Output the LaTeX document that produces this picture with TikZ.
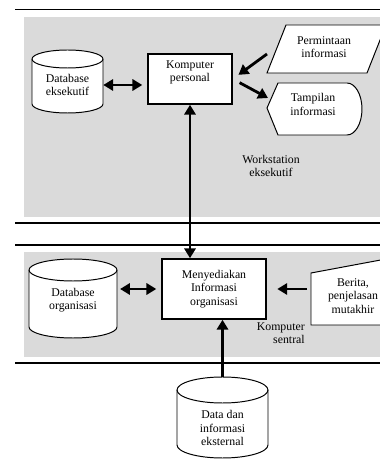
\documentclass[tikz,border=0pt]{standalone}
\usepackage{fontspec}
\setmainfont{Liberation Serif}
\usetikzlibrary{arrows.meta}
\definecolor{abu}{RGB}{218,218,218}

\begin{document}
\begin{tikzpicture}[x=0.025cm, y=0.025cm,
	garis/.style={line width=0.7pt},
	batas/.style={line width=1pt},
	teks/.style={align=center, inner sep=0pt, font=\fontsize{8.4}{9.5}\selectfont},
	kotak/.style={teks, draw, line width=1.1pt, fill=white},
	panah/.style={line width=2pt, -{Triangle[length=7pt,width=8pt]}},
	panah2/.style={line width=2pt, {Triangle[length=7pt,width=8pt]}-{Triangle[length=7pt,width=8pt]}}]
	\useasboundingbox (0,0) rectangle (380,462);
	\clip (0,0) rectangle (380,462);
	
	%BACKGROUND
	\fill[abu] (24,245) rectangle (385,445);
	\fill[abu] (24,105) rectangle (385,210);
	\foreach \y in {452.5,239,217,99}
	\draw[batas] (15,\y)--(385,\y);
	
	%WORKSTATION
	\draw[garis,fill=white] (32,403)--(32,358) arc[start angle=180,end angle=360,x radius=35.5,y radius=9]--(103,403) arc[start angle=0,end angle=180,x radius=35.5,y radius=9]--cycle;
	\draw[garis] (32,403) arc[start angle=180,end angle=360,x radius=35.5,y radius=9];
	\node[teks, minimum width=1.775cm] (db1) at (67.5,377) {Database\\eksekutif};
	
	\node[kotak, minimum width=2.1cm, minimum height=1.25cm] (komputer) at (190,383) {};
	\node[teks] at (190,389.5) {Komputer\\personal};
	
	\draw[garis,fill=white] (267,389)--(286,437)--(386,437)--(367,389)--cycle;
	\node[teks] (permintaan) at (324,415) {Permintaan\\informasi};
	
	\draw[garis,fill=white] (267,354)--(278,379)--(347,379) arc[start angle=90,end angle=-90,x radius=15,y radius=26]--(278,327)--cycle;
	\node[teks] (tampilan) at (313,357.5) {Tampilan\\informasi};
	
	\node[teks] (workstation) at (271,296) {Workstation\\eksekutif};
	
	\coordinate (pm) at (267,408);
	\coordinate (tp) at (268,364);
	\draw[panah2, shorten >=3.5pt] (db1.east)--(db1.east -| komputer.west);
	\draw[panah, shorten >=5pt] (pm)--(komputer.east);
	\draw[panah, shorten <=5.5pt] (komputer.east)--(tp);
	
	%SENTRAL
	\draw[garis,fill=white] (29,192)--(29,135) arc[start angle=180,end angle=360,x radius=44,y radius=11]--(117,192) arc[start angle=0,end angle=180,x radius=44,y radius=11]--cycle;
	\draw[garis] (29,192) arc[start angle=180,end angle=360,x radius=44,y radius=11];
	\node[teks, minimum width=2.2cm] (db2) at (73,162) {Database\\organisasi};
	
	\node[kotak, minimum width=2.6cm, minimum height=1.5cm] (menyediakan) at (214,173) {Menyediakan\\Informasi\\organisasi};
	
	\draw[garis,fill=white] (311,137)--(311,189)--(386,203)--(386,137)--cycle;
	\node[teks] (berita) at (353,166) {Berita,\\penjelasan\\mutakhir};
	
	\node[teks, align=right, anchor=east] (sentral) at (305,129) {Komputer\\sentral};
	
	\coordinate (br) at (307,173);
	\draw[panah2] (komputer.south)--(komputer.south |- menyediakan.north);
	\draw[panah2, shorten <=2pt, shorten >=3.5pt] (db2.east |- menyediakan.west)--(menyediakan.west);
	\draw[panah, shorten >=7.5pt] (br)--(menyediakan.east);
	
	%EKSTERNAL
	\draw[garis,fill=white] (177,72)--(177,17) arc[start angle=180,end angle=360,x radius=45.5,y radius=13]--(268,72) arc[start angle=0,end angle=180,x radius=45.5,y radius=13]--cycle;
	\draw[garis] (177,72) arc[start angle=180,end angle=360,x radius=45.5,y radius=13];
	\node[teks, minimum width=2.275cm] (data) at (222.5,34) {Data dan\\informasi\\eksternal};
	
	\coordinate (dataatas) at (222.5,85);
	\draw[panah] (dataatas)--(dataatas |- menyediakan.south);
\end{tikzpicture}
\end{document}
